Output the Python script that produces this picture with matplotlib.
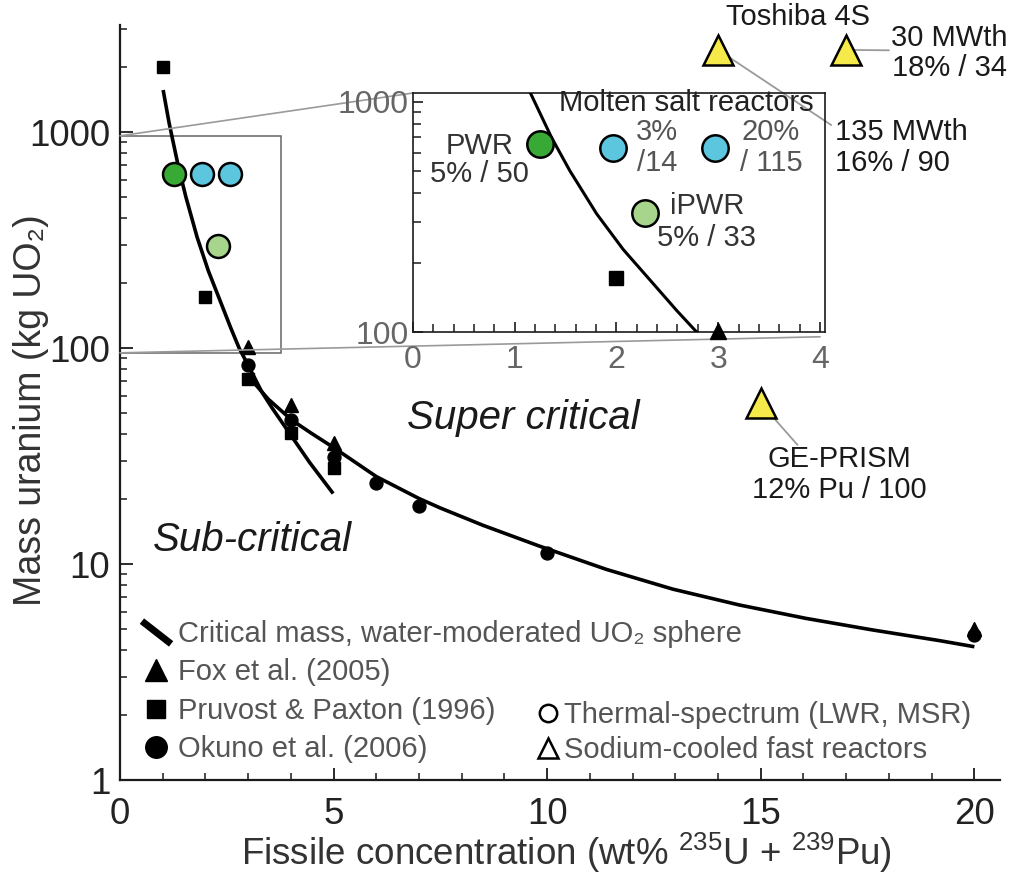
import matplotlib
matplotlib.use("Agg")
import matplotlib.pyplot as plt
import numpy as np
from matplotlib.lines import Line2D
from matplotlib.path import Path
from matplotlib.patches import Rectangle, ConnectionPatch
from matplotlib.ticker import FixedLocator, FixedFormatter, NullFormatter, LogLocator, MultipleLocator

plt.rcParams['font.family'] = ['Liberation Sans', 'DejaVu Sans']
plt.rcParams['mathtext.default'] = 'regular'

# ---------------- data ----------------
# critical-mass curves (water-moderated UO2 sphere)
crit_a_x = [1.01, 1.15, 1.363, 1.543, 1.805, 2.067, 2.378, 2.592, 2.788, 3.11, 3.32, 3.56, 3.98, 4.44, 4.99]
crit_a_y = [1565, 1100, 697, 500, 326, 228, 159, 124, 100, 75.5, 62.6, 52.8, 40.0, 29.5, 21.2]
crit_b_x = [3.08, 3.47, 4.02, 4.48, 5.03, 6.00, 7.00, 7.49, 8.50, 9.82, 11.38, 12.94, 14.50, 16.06, 17.62, 19.18, 20.0]
crit_b_y = [71.1, 58.0, 46.4, 40.3, 34.3, 25.4, 20.1, 18.2, 15.1, 12.1, 9.45, 7.65, 6.46, 5.60, 4.95, 4.42, 4.14]

fox_x = [3, 4, 5, 20]
fox_y = [101, 54.5, 36.2, 5.0]
pruvost_x = [1, 2, 3, 4, 5]
pruvost_y = [2000, 172, 71.6, 40.3, 27.7]
okuno_x = [3, 4, 5, 6, 7, 10, 20]
okuno_y = [83, 46.4, 31.4, 23.6, 18.5, 11.2, 4.7]

# thermal-spectrum reactors: PWR, MSR 3%, MSR 20%, iPWR
thermal_names = ['PWR', 'MSR 3%', 'MSR 20%', 'iPWR']
thermal_x_main = [1.26, 1.92, 2.57, 2.29]
thermal_y_main = [640, 640, 640, 297]
thermal_x_inset = [1.25, 1.97, 2.97, 2.28]
thermal_y_inset = [657, 629, 629, 329]
thermal_colors = ['#39a935', '#5cc6df', '#5cc6df', '#a7d58b']

# sodium-cooled fast reactors: Toshiba 4S 135 MWth, Toshiba 4S 30 MWth, GE-PRISM
sfr_names = ['Toshiba 4S 135 MWth', 'Toshiba 4S 30 MWth', 'GE-PRISM']
sfr_x = [14, 17, 15]
sfr_y = [2400, 2400, 55.5]

x_ticks = [0, 5, 10, 15, 20]
y_ticks = [1, 10, 100, 1000]
y_ticklabels = ['1', '10', '100', '1000']
inset_x_ticks = [0, 1, 2, 3, 4]
inset_y_ticks = [100, 1000]
inset_y_ticklabels = ['100', '1000']

legend1_labels = ['Critical mass, water-moderated UO\u2082 sphere', 'Fox et al. (2005)',
                  'Pruvost & Paxton (1996)', 'Okuno et al. (2006)']
legend2_labels = ['Thermal-spectrum (LWR, MSR)', 'Sodium-cooled fast reactors']

# ---------------- figure ----------------
fig = plt.figure(figsize=(10.24, 8.8), dpi=100)
ax = fig.add_axes([120/1024, 100/880, 880/1024, 755/880])
ax.set_yscale('log')
ax.set_xlim(0, 20.6)
ax.set_ylim(1, 3130)
for s in ['top', 'right']:
    ax.spines[s].set_visible(False)
for s in ['left', 'bottom']:
    ax.spines[s].set_linewidth(1.6)
    ax.spines[s].set_color('#1a1a1a')
ax.xaxis.set_major_locator(FixedLocator(x_ticks))
ax.xaxis.set_minor_locator(MultipleLocator(1))
ax.yaxis.set_major_locator(FixedLocator(y_ticks))
ax.yaxis.set_major_formatter(FixedFormatter(y_ticklabels))
ax.yaxis.set_minor_locator(LogLocator(base=10, subs=np.arange(2, 10)))
ax.yaxis.set_minor_formatter(NullFormatter())
ax.tick_params(which='both', direction='in', color='#1a1a1a')
ax.tick_params(which='major', length=9, width=1.3, labelsize=26.5, labelcolor='#222222')
ax.tick_params(axis='x', which='major', pad=12)
ax.tick_params(axis='y', which='major', pad=7)
ax.tick_params(which='minor', length=5, width=1.1)
ax.set_xlabel('Fissile concentration (wt% $^{235}$U + $^{239}$Pu)', fontsize=26.5, color='#333333')
ax.xaxis.label.set_verticalalignment('baseline')
ax.xaxis.set_label_coords(0.507, -0.1126)
ax.set_ylabel('Mass uranium (kg UO\u2082)', fontsize=27, color='#333333')
ax.yaxis.set_label_coords(-0.081, 0.49)

# curves
ax.plot(crit_a_x, crit_a_y, color='black', lw=2.6, solid_capstyle='butt', zorder=3)
ax.plot(crit_b_x, crit_b_y, color='black', lw=2.6, solid_capstyle='butt', zorder=3)

# literature points
ax.plot(fox_x, fox_y, ls='none', marker='^', ms=10, color='black', zorder=4)
ax.plot(pruvost_x, pruvost_y, ls='none', marker='s', ms=8.7, color='black', zorder=4)
ax.plot(okuno_x, okuno_y, ls='none', marker='o', ms=9.3, color='black', zorder=4)

# reactors
for xv, yv, c in zip(thermal_x_main, thermal_y_main, thermal_colors):
    ax.plot([xv], [yv], ls='none', marker='o', ms=16.5, mfc=c, mec='black', mew=1.8, zorder=5)
ax.plot(sfr_x, sfr_y, ls='none', marker='^', ms=21, mfc='#f6ea4b', mec='black', mew=1.8, zorder=6, clip_on=False)

# zoom rectangle
ax.add_patch(Rectangle((0, 95), 3.77, 960 - 95, fill=False, ec='#666666', lw=1.1, zorder=2))

# text labels
ax.text(9.45, 47.4, 'Super critical', fontsize=29, style='italic', ha='center', va='center', color='#1a1a1a')
ax.text(3.11, 12.9, 'Sub-critical', fontsize=29, style='italic', ha='center', va='center', color='#1a1a1a')

line_kw = dict(arrowstyle='-', color='#9a9a9a', lw=1.3, shrinkA=0, shrinkB=0)
ax.text(15.86, 3420, 'Toshiba 4S', ha='center', va='center', fontsize=21, color='#1a1a1a', clip_on=False)
ax.annotate('', xy=(sfr_x[1], sfr_y[1]), xytext=(18.0, 2390), arrowprops=line_kw,
            annotation_clip=False, zorder=5)
ax.text(19.42, 2330, '30 MWth\n18% / 34', ha='center', va='center', fontsize=21, color='#1a1a1a',
        linespacing=1.1, multialignment='center', clip_on=False)
ax.annotate('', xy=(sfr_x[0], sfr_y[0]), xytext=(16.65, 1077), arrowprops=line_kw,
            annotation_clip=False, zorder=5)
ax.text(16.73, 845, '135 MWth\n16% / 90', ha='left', va='center', fontsize=21, color='#1a1a1a',
        linespacing=1.15, multialignment='left', clip_on=False)
ax.annotate('', xy=(sfr_x[2], sfr_y[2]), xytext=(15.86, 35.6), arrowprops=line_kw, zorder=5)
ax.text(16.84, 26.0, 'GE-PRISM\n12% Pu / 100', ha='center', va='center', fontsize=21, color='#1a1a1a',
        linespacing=1.12, multialignment='center')

# legends
diag = Path([(-1.0, 0.78), (1.0, -0.78)], [Path.MOVETO, Path.LINETO])
h1 = [Line2D([], [], ls='none', marker=diag, ms=21, mew=5, color='black'),
      Line2D([], [], ls='none', marker='^', ms=16, color='black'),
      Line2D([], [], ls='none', marker='s', ms=12.5, color='black'),
      Line2D([], [], ls='none', marker='o', ms=15.5, color='black')]
leg1 = ax.legend(h1, legend1_labels, loc='upper left', bbox_to_anchor=(0.0258, 0.212),
                 frameon=False, fontsize=21, labelcolor='#555555', handlelength=0.92,
                 handletextpad=0.3, labelspacing=0.36, borderpad=0, borderaxespad=0)
ax.add_artist(leg1)
h2 = [Line2D([], [], ls='none', marker='o', ms=12.5, mfc='white', mec='black', mew=1.8),
      Line2D([], [], ls='none', marker='^', ms=14, mfc='white', mec='black', mew=1.8)]
ax.legend(h2, legend2_labels, loc='upper left', bbox_to_anchor=(0.4745, 0.104),
          frameon=False, fontsize=21, labelcolor='#555555', handlelength=0.7,
          handletextpad=0.2, labelspacing=0.24, borderpad=0, borderaxespad=0)

# ---------------- inset ----------------
axin = fig.add_axes([413/1024, (880-332)/880, 412/1024, 239/880])
axin.patch.set_alpha(0)
axin.set_zorder(ax.get_zorder() + 1)
axin.set_yscale('log')
axin.set_xlim(0, 4.05)
axin.set_ylim(100, 1090)
for s in axin.spines.values():
    s.set_linewidth(1.2)
    s.set_color('#1a1a1a')
axin.xaxis.set_major_locator(FixedLocator(inset_x_ticks))
axin.xaxis.set_minor_locator(MultipleLocator(0.2))
axin.yaxis.set_major_locator(FixedLocator(inset_y_ticks))
axin.yaxis.set_major_formatter(FixedFormatter(inset_y_ticklabels))
axin.yaxis.set_minor_locator(LogLocator(base=10, subs=np.arange(2, 10)))
axin.yaxis.set_minor_formatter(NullFormatter())
axin.tick_params(which='both', direction='in', color='#1a1a1a')
axin.tick_params(which='major', length=7, width=1.2, labelsize=23, labelcolor='#666666', pad=3)
axin.tick_params(axis='x', which='major', pad=9)
axin.tick_params(which='minor', length=6, width=1.1)

axin.plot(crit_a_x, crit_a_y, color='black', lw=2.2, zorder=3)
ins_lo, ins_hi = 97, 1090
for xs, ys, mk, ms in [(fox_x, fox_y, '^', 11), (pruvost_x, pruvost_y, 's', 10), (okuno_x, okuno_y, 'o', 10)]:
    sel = [(a, b) for a, b in zip(xs, ys) if ins_lo <= b <= ins_hi and a <= 4.05]
    if sel:
        axin.plot([p[0] for p in sel], [p[1] for p in sel], ls='none', marker=mk, ms=ms,
                  color='black', zorder=4, clip_on=False)
for xv, yv, c in zip(thermal_x_inset, thermal_y_inset, thermal_colors):
    axin.plot([xv], [yv], ls='none', marker='o', ms=19, mfc=c, mec='black', mew=1.8, zorder=5)

axin.text(2.69, 985, 'Molten salt reactors', fontsize=21, ha='center', va='center', color='#222222')
axin.text(0.65, 558, 'PWR\n5% / 50', fontsize=21, ha='center', va='center', color='#333333',
          linespacing=1.02)
axin.text(2.40, 631, '3%\n/14', fontsize=21, ha='center', va='center', color='#555555', linespacing=1.12)
axin.text(3.52, 631, '20%\n/ 115', fontsize=21, ha='center', va='center', color='#555555', linespacing=1.12)
axin.text(2.89, 300, 'iPWR\n5% / 33', fontsize=21, ha='center', va='center', color='#333333',
          linespacing=1.18, multialignment='center')

# connector lines from zoom box to inset
fig.add_artist(ConnectionPatch(xyA=(0, 960), coordsA=ax.transData, xyB=(0, 1), coordsB=axin.transAxes,
                               color='#9a9a9a', lw=1.2, zorder=1))
fig.add_artist(ConnectionPatch(xyA=(0, 95), coordsA=ax.transData, xyB=(0.988, -0.02), coordsB=axin.transAxes,
                               color='#9a9a9a', lw=1.2, zorder=1))

fig.savefig('out.png', dpi=100)
